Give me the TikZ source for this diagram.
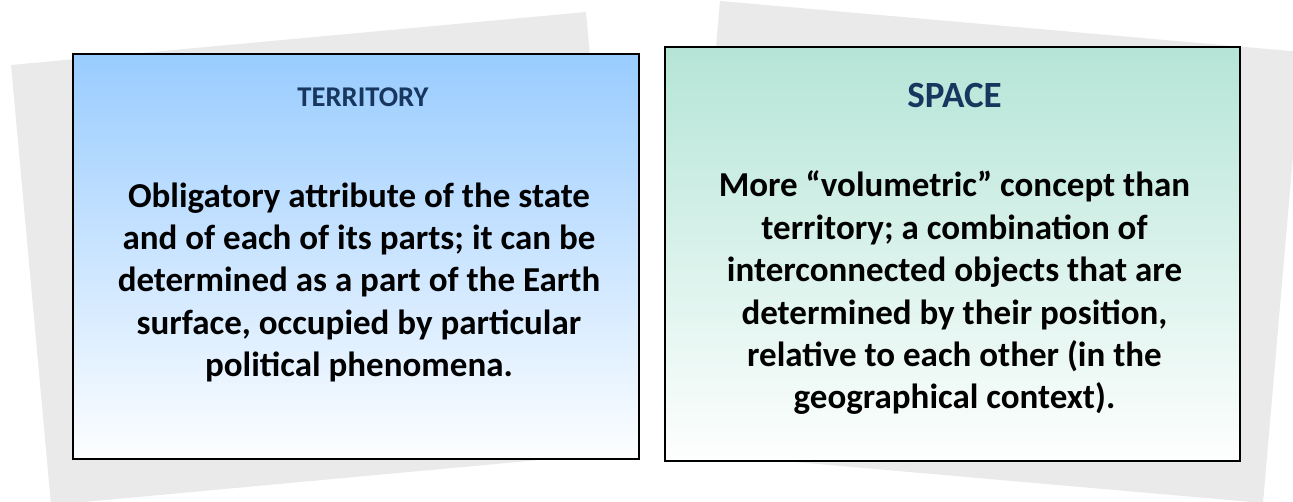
\documentclass[tikz,border=0pt]{standalone}
\usepackage{fontspec}
\setmainfont{Carlito}
\usetikzlibrary{positioning}
\definecolor{papergray}{RGB}{234,234,234}
\definecolor{headblue}{HTML}{17375E}
\definecolor{skyblue}{HTML}{99CCFF}
\definecolor{mintgreen}{RGB}{181,229,215}
\tikzset{
  paper/.style={fill=papergray, draw=none},
  panel/.style={draw=black, line width=2pt, inner sep=0pt},
  heading/.style={text=headblue, anchor=base, inner sep=0pt},
  bodytext/.style={align=center, anchor=base, inner sep=0pt,
    font=\bfseries\fontsize{35}{42.4}\selectfont}
}

\begin{document}
\begin{tikzpicture}[x=1pt, y=-1pt]
		\useasboundingbox (0,0) rectangle (1293,502);
		% tilted sheets behind the panels
		\begin{scope}
		\clip (0,0) rectangle (1293,502);
		\fill [paper] (11,65) -- (586,12) -- (626,452) -- (51,505) -- cycle;
		\fill [paper] (720,1) -- (1302,52) -- (1263,503) -- (681,452) -- cycle;
		\end{scope}
		% panels
		\node [panel, top color=skyblue, bottom color=white!98!skyblue,
		  minimum width=566pt, minimum height=405pt] (territory) at (356,256.5) {};
		\node [panel, top color=mintgreen, bottom color=white!98!mintgreen,
		  minimum width=575pt, minimum height=414pt] (space) at (952.5,254) {};
		\node [heading, font=\bfseries\fontsize{28.6}{34}\selectfont] (territoryhead) at (363,107) {TERRITORY};
		\node [heading, font=\bfseries\fontsize{37}{44}\selectfont] (spacehead) at (954.5,108) {SPACE};
		% base anchor sits on the last line
		\node [bodytext] (territorytext) at (359,376.6) {Obligatory attribute of the state\\
		  and of each of its parts; it can be\\
		  determined as a part of the Earth\\
		  surface, occupied by particular\\
		  political phenomena.};
		\node [bodytext] (spacetext) at (954.5,409) {More “volumetric” concept than\\
		  territory; a combination of\\
		  interconnected objects that are\\
		  determined by their position,\\
		  relative to each other (in the\\
		  geographical context).};
\end{tikzpicture}
\end{document}
